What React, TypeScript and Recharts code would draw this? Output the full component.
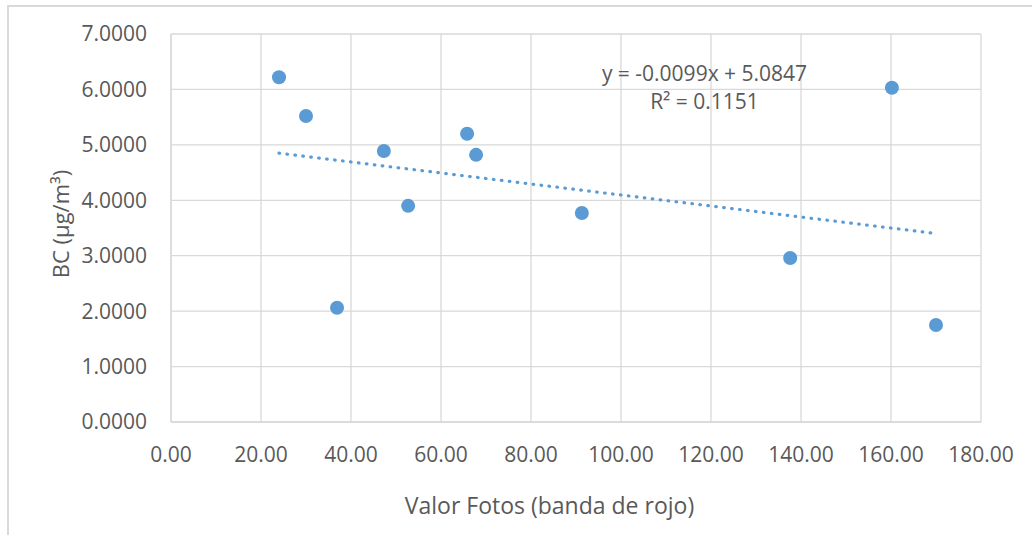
import React from 'react';
import { ScatterChart, Scatter, XAxis, YAxis, CartesianGrid, ReferenceLine } from 'recharts';

const photoValues = [24.0, 30.0, 36.9, 47.3, 52.7, 65.8, 67.8, 91.3, 137.6, 160.2, 170.0];
const bcValues = [6.22, 5.52, 2.06, 4.89, 3.9, 5.2, 4.82, 3.77, 2.96, 6.03, 1.75];
const xTicks = [0, 20, 40, 60, 80, 100, 120, 140, 160, 180];
const yTicks = [0, 1, 2, 3, 4, 5, 6, 7];
const trendStart = { x: 24.0, y: 4.85 };
const trendEnd = { x: 170.0, y: 3.4 };
const xTitle = 'Valor Fotos (banda de rojo)';
const yTitle = 'BC (µg/m³)';
const equationText = 'y = -0.0099x + 5.0847';
const r2Text = 'R² = 0.1151';

const points = photoValues.map((x, i) => ({ x, y: bcValues[i] }));

const FONT = '"Open Sans", sans-serif';
const TEXT = '#595959';
const GRID = '#d9d9d9';
const BLUE = '#5B9BD5';

const Dot = (props: any) => {
  if (props.cx == null || props.cy == null) return <g />;
  return <circle cx={props.cx} cy={props.cy} r={7} fill={BLUE} />;
};

export default function App() {
  return (
    <div style={{ position: 'absolute', left: 0, top: 0, width: 1032, height: 535, overflow: 'hidden', background: '#fff' }}>
      <div
        style={{
          position: 'absolute',
          left: 7,
          top: 5,
          width: 1025,
          height: 530,
          borderTop: `2px solid ${GRID}`,
          borderLeft: `2px solid ${GRID}`,
          boxSizing: 'border-box',
        }}
      />
      <div style={{ position: 'absolute', left: 0, top: 0 }}>
        <ScatterChart width={1032} height={535} margin={{ top: 34, right: 51, bottom: 83, left: 0 }}>
          <CartesianGrid stroke={GRID} strokeWidth={1.3} horizontal vertical />
          <XAxis
            type="number"
            dataKey="x"
            domain={[0, 180]}
            ticks={xTicks}
            interval={0}
            height={30}
            tickFormatter={(v: number) => v.toFixed(2)}
            tick={{ fill: TEXT, fontSize: 21, fontFamily: FONT }}
            tickLine={false}
            tickSize={0}
            tickMargin={25}
            axisLine={{ stroke: GRID, strokeWidth: 1.3 }}
            allowDataOverflow
          />
          <YAxis
            type="number"
            dataKey="y"
            domain={[0, 7]}
            ticks={yTicks}
            interval={0}
            width={171}
            tickFormatter={(v: number) => v.toFixed(4)}
            tick={{ fill: TEXT, fontSize: 21, fontFamily: FONT }}
            tickLine={false}
            tickSize={0}
            tickMargin={24}
            axisLine={{ stroke: GRID, strokeWidth: 1.3 }}
            allowDataOverflow
          />
          <Scatter data={points} shape={<Dot />} isAnimationActive={false} />
          <ReferenceLine
            segment={[trendStart, trendEnd]}
            stroke={BLUE}
            strokeWidth={3.2}
            strokeDasharray="0.6 7.4"
            strokeLinecap="round"
            ifOverflow="visible"
          />
        </ScatterChart>
      </div>
      <svg width={1032} height={535} style={{ position: 'absolute', left: 0, top: 0, pointerEvents: 'none' }}>
        <text x={549.5} y={514} textAnchor="middle" fill={TEXT} fontSize={23} fontFamily={FONT}>
          {xTitle}
        </text>
        <text
          x={59.5}
          y={224}
          textAnchor="middle"
          dominantBaseline="central"
          transform="rotate(-90, 59.5, 224)"
          fill={TEXT}
          fontSize={22}
          fontFamily={FONT}
        >
          {yTitle}
        </text>
        <text x={704.5} y={81} textAnchor="middle" fill={TEXT} fontSize={21} fontFamily={FONT}>
          {equationText}
        </text>
        <text x={704.5} y={109} textAnchor="middle" fill={TEXT} fontSize={21} fontFamily={FONT}>
          {r2Text}
        </text>
      </svg>
    </div>
  );
}
